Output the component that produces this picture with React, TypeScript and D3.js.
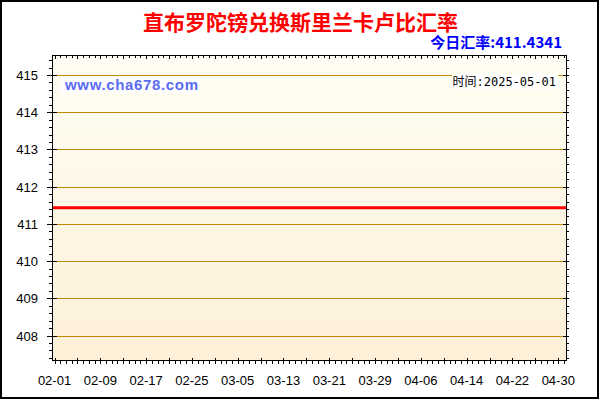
import React from "react";
import * as d3 from "d3";

const title = "直布罗陀镑兑换斯里兰卡卢比汇率";
const currentRateLabel = "今日汇率:411.4341";
const timeLabel = "时间:2025-05-01";
const siteLabel = "www.cha678.com";

const xTickLabels = ["02-01", "02-09", "02-17", "02-25", "03-05", "03-13", "03-21", "03-29", "04-06", "04-14", "04-22", "04-30"];
const yTickValues = [408, 409, 410, 411, 412, 413, 414, 415];

// daily rates 02-01 .. 05-01
const rates = [
  411.4341, 411.4341, 411.4341, 411.4341, 411.4341, 411.4341, 411.4341, 411.4341, 411.4341, 411.4341,
  411.4341, 411.4341, 411.4341, 411.4341, 411.4341, 411.4341, 411.4341, 411.4341, 411.4341, 411.4341,
  411.4341, 411.4341, 411.4341, 411.4341, 411.4341, 411.4341, 411.4341, 411.4341, 411.4341, 411.4341,
  411.4341, 411.4341, 411.4341, 411.4341, 411.4341, 411.4341, 411.4341, 411.4341, 411.4341, 411.4341,
  411.4341, 411.4341, 411.4341, 411.4341, 411.4341, 411.4341, 411.4341, 411.4341, 411.4341, 411.4341,
  411.4341, 411.4341, 411.4341, 411.4341, 411.4341, 411.4341, 411.4341, 411.4341, 411.4341, 411.4341,
  411.4341, 411.4341, 411.4341, 411.4341, 411.4341, 411.4341, 411.4341, 411.4341, 411.4341, 411.4341,
  411.4341, 411.4341, 411.4341, 411.4341, 411.4341, 411.4341, 411.4341, 411.4341, 411.4341, 411.4341,
  411.4341, 411.4341, 411.4341, 411.4341, 411.4341, 411.4341, 411.4341, 411.4341, 411.4341, 411.4341,
];

const W = 600;
const H = 400;
const L = 52.5;
const R = 566;
const T = 55;
const B = 360.5;

export default function App() {
  const x = d3.scaleLinear().domain([0, 89]).range([54.5, 564]);
  const y = d3.scaleLinear().domain([407.33, 415.537]).range([B, T]);

  const line = d3
    .line<number>()
    .x((_, i) => (i === 0 ? L : i === rates.length - 1 ? R : x(i)))
    .y((d) => y(d));

  const dayTicks = d3.range(0, 90);
  const minorY = d3.range(407.4, 415.5, 0.2).map((v) => Math.round(v * 10) / 10);

  const sans = "'Liberation Sans', Arial, sans-serif";
  const cjk = "'Noto Sans CJK SC', 'Liberation Sans', sans-serif";

  return (
    <svg
      width={W}
      height={H}
      style={{ position: "absolute", left: 0, top: 0, display: "block" }}
      shapeRendering="crispEdges"
    >
      <defs>
        <linearGradient id="bg" x1="0" y1="0" x2="0" y2="1">
          <stop offset="0" stopColor="#fffef4" />
          <stop offset="1" stopColor="#fdf0d8" />
        </linearGradient>
      </defs>
      <rect x={0} y={0} width={W} height={H} fill="#fff" />
      <rect x={1} y={1} width={597} height={397} fill="none" stroke="#000" strokeWidth={2} />

      <text
        x={300.5}
        y={30}
        textAnchor="middle"
        fill="#ff0000"
        fontFamily={cjk}
        fontWeight="bold"
        fontSize={21}
        shapeRendering="auto"
      >
        {title}
      </text>
      <text
        x={562}
        y={48}
        textAnchor="end"
        fill="#0000ff"
        fontFamily={cjk}
        fontWeight="bold"
        fontSize={15}
      >
        {currentRateLabel}
      </text>

      <rect x={L} y={T} width={R - L} height={B - T} fill="url(#bg)" />

      {yTickValues.map((v) => (
        <line key={"g" + v} x1={L} x2={R} y1={Math.round(y(v)) + 0.5} y2={Math.round(y(v)) + 0.5} stroke="#bf8a00" strokeWidth={1} />
      ))}

      <rect x={61} y={77} width={139} height={16} fill="#fff" />
      <text x={65} y={90} fill="#5b6cf2" fontFamily={sans} fontWeight="bold" fontSize={15} textLength={133}>
        {siteLabel}
      </text>

      <rect x={452} y={74} width={106} height={15} fill="#fff" />
      <text x={556} y={86} textAnchor="end" fill="#000" fontFamily={"'DejaVu Sans Mono', " + cjk} fontSize={12}>
        {timeLabel}
      </text>

      <path d={line(rates) || ""} fill="none" stroke="#ff0000" strokeWidth={3} shapeRendering="auto" />

      {/* frame */}
      <rect x={L} y={T} width={R - L} height={B - T} fill="none" stroke="#000" strokeWidth={1} />

      {/* y minor ticks left and right */}
      {minorY.map((v) => {
        const yy = Math.round(y(v)) + 0.5;
        return (
          <g key={"my" + v}>
            <line x1={L - 4} x2={L} y1={yy} y2={yy} stroke="#000" />
            <line x1={R} x2={R + 3} y1={yy} y2={yy} stroke="#000" />
          </g>
        );
      })}
      {/* y major ticks and labels */}
      {yTickValues.map((v) => {
        const yy = Math.round(y(v)) + 0.5;
        return (
          <g key={"My" + v}>
            <line x1={L - 6} x2={L + 4} y1={yy} y2={yy} stroke="#000" />
            <line x1={R - 3} x2={R + 3} y1={yy} y2={yy} stroke="#000" />
            <text x={38} y={yy + 4.5} textAnchor="end" fill="#000" fontFamily={sans} fontSize={13}>
              {v}
            </text>
          </g>
        );
      })}

      {/* x ticks */}
      {dayTicks.map((d) => {
        const xx = Math.round(x(d)) + 0.5;
        const major = d % 4 === 0;
        return (
          <g key={"x" + d}>
            <line x1={xx} x2={xx} y1={major ? B - 3 : B} y2={B + 3} stroke="#000" />
            <line x1={xx} x2={xx} y1={T} y2={T + (major ? 4 : 3)} stroke="#000" />
          </g>
        );
      })}
      {xTickLabels.map((lab, i) => {
        const d = i === xTickLabels.length - 1 ? 88 : i * 8;
        return (
          <text key={lab} x={x(d)} y={385} textAnchor="middle" fill="#000" fontFamily={sans} fontSize={13}>
            {lab}
          </text>
        );
      })}
    </svg>
  );
}
